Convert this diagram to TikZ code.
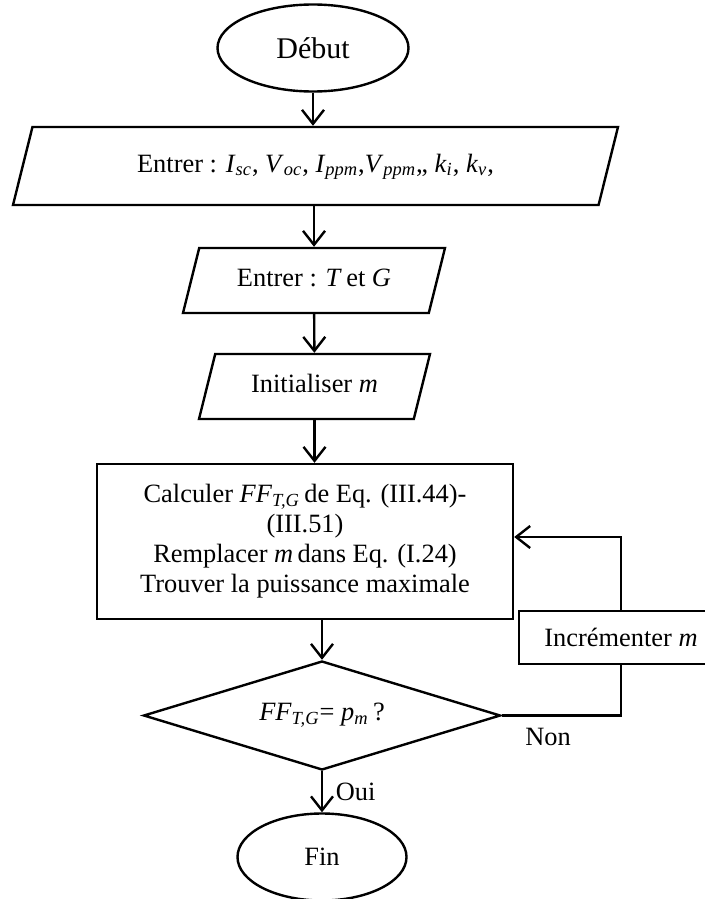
\documentclass[tikz,border=0pt]{standalone}
\usepackage{fontspec}
\setmainfont{Liberation Serif}
\usetikzlibrary{shapes.geometric,arrows.meta}
\newcommand{\vsub}[2]{\textit{#1}\textsubscript{\textit{#2}}}

\begin{document}
\begin{tikzpicture}[x=0.5pt, y=-0.5pt, line width=1.2pt,
    every node/.style={font=\fontsize{13.2}{15}\selectfont},
    >={Straight Barb[length=7pt,width=11pt]},
    terminal/.style={draw, ellipse, minimum width=95.5pt, minimum height=43.5pt, inner sep=0pt},
    io/.style={draw, trapezium, trapezium left angle=76, trapezium right angle=104,
        trapezium stretches body, inner xsep=0pt, text height=9pt, text depth=3pt},
    process/.style={draw, rectangle, align=center, inner sep=0pt},
    decision/.style={draw, diamond, aspect=3.3, inner sep=0pt,
        minimum width=178.5pt, minimum height=54.5pt}]
    \useasboundingbox (0,0) rectangle (705,899);

    % Blocs
    \node[terminal, font=\fontsize{15}{17}\selectfont] (debut) at (313,48) {Début};
    \node[io, minimum width=302.5pt, inner ysep=13.5pt] (entree1) at (315.5,166)
        {Entrer : \vsub{I}{sc}, \vsub{V}{oc}, \vsub{I}{ppm},\vsub{V}{ppm},, \vsub{k}{i}, \vsub{k}{v},};
    \node[io, minimum width=131pt, inner ysep=10.25pt] (entree2) at (314,280.5)
        {Entrer : \textit{T}\,et \textit{G}};
    \node[io, minimum width=115.5pt, inner ysep=10.25pt] (init) at (314.5,386.5)
        {Initialiser \textit{m}};
    \node[process, minimum width=208pt, minimum height=77.5pt] (calc) at (305,541.5)
        {Calculer \vsub{FF}{T,G}\,de Eq. (III.44)-\\(III.51)\\Remplacer \textit{m}\,dans Eq. (I.24)\\Trouver la puissance maximale};
    \node[decision] (test) at (322,715.5) {\vsub{FF}{T,G}= \vsub{p}{m}\,?};
    \node[process, minimum width=102pt, minimum height=26.5pt] (incr) at (621,637.5)
        {Incrémenter \textit{m}};
    \node[terminal, minimum width=84.5pt] (fin) at (322,857) {Fin};
    \node (non) at (548,737) {Non};

    % Liaisons
    \draw[->] (debut.south) -- (debut.south |- entree1.north);
    \draw[->] (entree1.south -| entree2.north) -- (entree2.north);
    \draw[->] (entree2) -- (init);
    \draw[->] (init.south) -- (init.south |- calc.north);
    \draw[->] (calc.south -| test.north) -- (test.north);
    \draw[->] (test.south) -- (fin.north) node[midway, right=3pt] {Oui};
    \draw (test.east) -- (test.east -| incr.south) -- (incr.south);
    \draw[->] (incr.north) |- ([yshift=2.25pt]calc.east);
\end{tikzpicture}
\end{document}
